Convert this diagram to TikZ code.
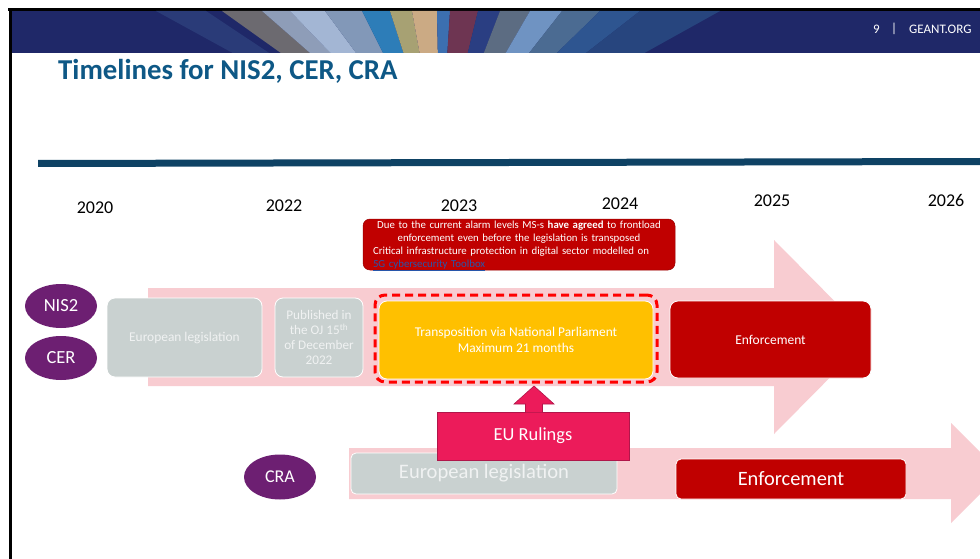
\documentclass[tikz,border=0pt]{standalone}
\usepackage{fontspec}
\setmainfont{Carlito}
\usetikzlibrary{shapes.geometric}
\definecolor{navy}{RGB}{31,40,104}
\definecolor{titleblue}{RGB}{14,88,134}
\definecolor{rulecol}{RGB}{14,66,100}
\definecolor{pinkarrow}{RGB}{248,204,209}
\definecolor{grayfill}{RGB}{201,209,208}
\definecolor{grtext}{RGB}{240,242,242}
\definecolor{darkred}{RGB}{192,0,0}
\definecolor{amber}{RGB}{255,192,0}
\definecolor{rulingpink}{RGB}{236,27,90}
\definecolor{rulingedge}{RGB}{176,22,74}
\definecolor{plum}{RGB}{109,31,114}
\definecolor{linkblue}{RGB}{40,86,170}
\definecolor{sA}{RGB}{42,59,120}
\definecolor{sB}{RGB}{108,106,112}
\definecolor{sC}{RGB}{142,157,184}
\definecolor{sD}{RGB}{163,182,212}
\definecolor{sE}{RGB}{130,152,184}
\definecolor{sF}{RGB}{45,125,184}
\definecolor{sG}{RGB}{167,161,115}
\definecolor{sH}{RGB}{203,170,132}
\definecolor{sI}{RGB}{60,111,176}
\definecolor{sJ}{RGB}{110,53,82}
\definecolor{sK}{RGB}{42,62,130}
\definecolor{sL}{RGB}{92,108,130}
\definecolor{sM}{RGB}{111,147,194}
\definecolor{sN}{RGB}{75,107,146}
\definecolor{sO}{RGB}{46,85,144}
\definecolor{sP}{RGB}{39,69,126}
\tikzset{
  box/.style={rounded corners=8pt, draw=white, line width=0.8pt, text=white, align=center, inner sep=0pt},
  graybox/.style={box, fill=grayfill, text=grtext},
  redbox/.style={box, fill=darkred},
  lawtag/.style={ellipse, fill=plum, text=white, minimum width=72pt, minimum height=44pt, inner sep=0pt, font=\fontsize{18.5}{20}\selectfont},
  yearlab/.style={font=\fontsize{18}{20}\selectfont, text=black, inner sep=0pt},
  pinkarrowstyle/.style={fill=pinkarrow},
  hdr/.style={text=white, font=\fontsize{13}{14}\selectfont, inner sep=0pt},
}
\begin{document}
\begin{tikzpicture}[x=1pt,y=-1pt]
\useasboundingbox (0,0) rectangle (980,559);
\clip (0,0) rectangle (980,559);
\fill[white] (0,0) rectangle (980,559);
% banner
\fill[black] (8,8) rectangle (980,11);
\fill[navy] (9,11) rectangle (980,53);
\begin{scope}
\clip (9,11) rectangle (980,53);
\foreach \a/\b/\c in {156/206/sA,222/262/sB,262/290/sC,290/325/sD,325/362/sE,362/390/sF,390/412/sG,412/437/sH,437/450/sI,450/478/sJ,478/500/sK,500/530/sL,530/562/sM,562/600/sN,600/640/sO,640/720/sP}{
  \fill[\c] (\a,11) -- (\b,11) -- ({440+(\b-440)*0.73},53) -- ({440+(\a-440)*0.73},53) -- cycle;
}
\end{scope}
\fill[black] (9,8) rectangle (12,559);
\node[hdr, anchor=west] (pagenum) at (873,29) {9};
\node[hdr] (sep) at (894,29) {|};
\node[hdr, anchor=west] (geant) at (909,29) {GEANT.ORG};
% title
\node[anchor=base west, text=titleblue, font=\bfseries\fontsize{28.8}{32}\selectfont, inner sep=0pt] (title) at (58,80) {Timelines for NIS2, CER, CRA};
\fill[rulecol] (38,160) -- (980,158) -- (980,165) -- (38,167) -- cycle;
% years
\node[yearlab] (y2020) at (95,208) {2020};
\node[yearlab] (y2022) at (284,206) {2022};
\node[yearlab] (y2023) at (459,206) {2023};
\node[yearlab] (y2024) at (620,204) {2024};
\node[yearlab] (y2025) at (772,201) {2025};
\node[yearlab] (y2026) at (946,200) {2026};
% pink arrows
\fill[pinkarrowstyle] (148,288) -- (774,288) -- (774,240) -- (870,337) -- (774,434) -- (774,386) -- (148,386) -- cycle;
\fill[pinkarrowstyle] (349,448) -- (951,448) -- (951,423) -- (1001,473) -- (951,523) -- (951,499) -- (349,499) -- cycle;
% note
\node[fill=darkred, draw=darkred!80!black, line width=0.5pt, rounded corners=7pt, minimum width=312pt, minimum height=51pt, inner sep=0pt] (note) at (519,244.5) {};
\node[text=white, text width=296pt, inner sep=0pt, anchor=north, font=\fontsize{10.8}{13}\selectfont] (notetext) at (519,220.5) {{\centering Due to the current alarm levels MS-s \textbf{have agreed} to frontload\\ enforcement even before the legislation is transposed\par}{\raggedright\hspace*{2pt}Critical infrastructure protection in digital sector modelled on\\ \hspace*{2pt}\textcolor{linkblue}{\underline{5G cybersecurity Toolbox}}\par}};
% NIS2 / CER row
\node[lawtag] (nis2) at (61,306) {NIS2};
\node[lawtag] (cer) at (61,358) {CER};
\node[graybox, minimum width=155pt, minimum height=79pt, font=\fontsize{13.4}{15}\selectfont] (eulegis) at (184.5,337.5) {European legislation};
\node[graybox, minimum width=88pt, minimum height=79pt, font=\fontsize{13.2}{15.2}\selectfont] (published) at (319,337.5) {Published in\\ the OJ 15\textsuperscript{th}\\ of December\\ 2022};
\node[draw=red, dash pattern=on 8pt off 5pt, line width=3pt, rounded corners=10pt, minimum width=282pt, minimum height=87pt, inner sep=0pt] (dashframe) at (516,338.5) {};
\node[box, fill=amber, minimum width=274pt, minimum height=78pt, font=\fontsize{13.4}{16.5}\selectfont] (transpose) at (516,340) {Transposition via National Parliament\\ Maximum 21 months};
\node[redbox, minimum width=201pt, minimum height=77pt, font=\fontsize{13.5}{15}\selectfont] (enforce) at (770.5,339.5) {Enforcement};
% CRA row
\node[lawtag, minimum height=45pt, font=\fontsize{18}{20}\selectfont] (cra) at (280,477) {CRA};
\node[graybox, rounded corners=5pt, minimum width=266pt, minimum height=41pt, font=\fontsize{20.6}{22}\selectfont] (craleg) at (484,473.5) {\raisebox{3pt}{European legislation}};
\node[redbox, rounded corners=5pt, minimum width=230pt, minimum height=40pt, font=\fontsize{20.4}{22}\selectfont] (craenf) at (791,479) {Enforcement};
% EU rulings
\node[fill=rulingpink, draw=rulingedge, line width=0.6pt, minimum width=192pt, minimum height=48pt, inner sep=0pt, text=white, font=\fontsize{18.4}{20}\selectfont] (rulings) at (533,436) {EU Rulings};
\fill[rulingpink] (525.5,412.3) -- (525.5,404) -- (514,404) -- (534,386) -- (554,404) -- (542.5,404) -- (542.5,412.3) -- cycle;
\draw[rulingedge, line width=0.6pt] (525.5,412) -- (525.5,404) -- (514,404) -- (534,386) -- (554,404) -- (542.5,404) -- (542.5,412);
\end{tikzpicture}
\end{document}
